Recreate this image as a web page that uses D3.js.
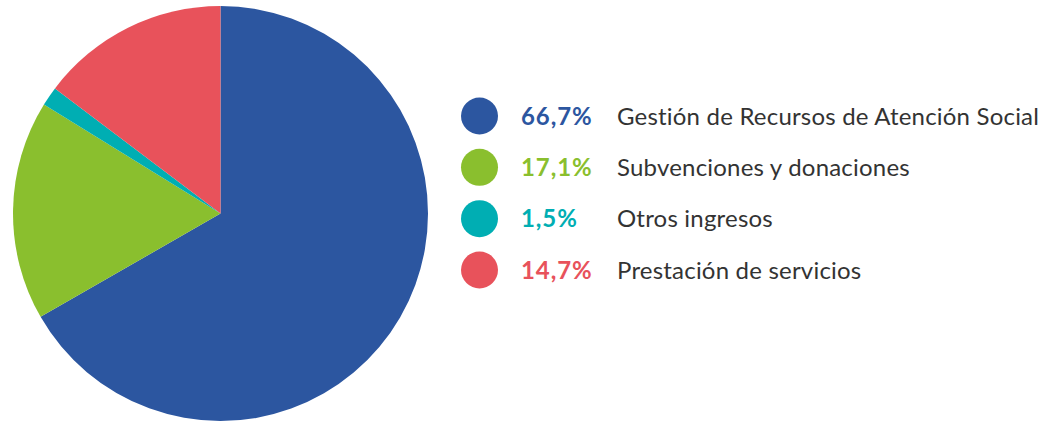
<!DOCTYPE html>
<html lang="es">
<head>
<meta charset="utf-8">
<script src="https://d3js.org/d3.v7.min.js"></script>
<style>
  body { margin: 0; background: #fff; }
  svg text { font-family: Lato, "Open Sans", sans-serif; }
</style>
</head>
<body>
<div id="chart"></div>
<script>
  var categories = ["Gestión de Recursos de Atención Social", "Subvenciones y donaciones", "Otros ingresos", "Prestación de servicios"];
  var values = [66.7, 17.1, 1.5, 14.7];
  var valueLabels = ["66,7%", "17,1%", "1,5%", "14,7%"];
  var colors = ["#2c56a0", "#8abf2e", "#00aeb3", "#e8525b"];

  var width = 1046, height = 422;
  var svg = d3.select("#chart").append("svg")
    .attr("width", width)
    .attr("height", height);

  var radius = 207.5;
  var pieG = svg.append("g").attr("transform", "translate(220.5,213.5)");

  var pie = d3.pie().sort(null).value(function (d) { return d; });
  var arc = d3.arc().innerRadius(0).outerRadius(radius);

  pieG.selectAll("path")
    .data(pie(values))
    .enter().append("path")
    .attr("d", arc)
    .attr("fill", function (d, i) { return colors[i]; });

  // legend
  var y = d3.scalePoint().domain(d3.range(categories.length)).range([116, 270]);
  var legend = svg.append("g");
  var row = legend.selectAll("g")
    .data(categories)
    .enter().append("g")
    .attr("transform", function (d, i) { return "translate(0," + y(i) + ")"; });

  row.append("circle")
    .attr("cx", 479.5)
    .attr("r", 18.5)
    .attr("fill", function (d, i) { return colors[i]; });

  row.append("text")
    .attr("x", 521)
    .attr("dy", "0.36em")
    .style("font-size", "24px")
    .style("font-weight", "bold")
    .style("letter-spacing", "0.9px")
    .attr("fill", function (d, i) { return colors[i]; })
    .text(function (d, i) { return valueLabels[i]; });

  row.append("text")
    .attr("x", 617)
    .attr("dy", "0.36em")
    .style("font-size", "24px")
    .style("letter-spacing", "0.2px")
    .attr("fill", "#333")
    .text(function (d) { return d; });
</script>
</body>
</html>
